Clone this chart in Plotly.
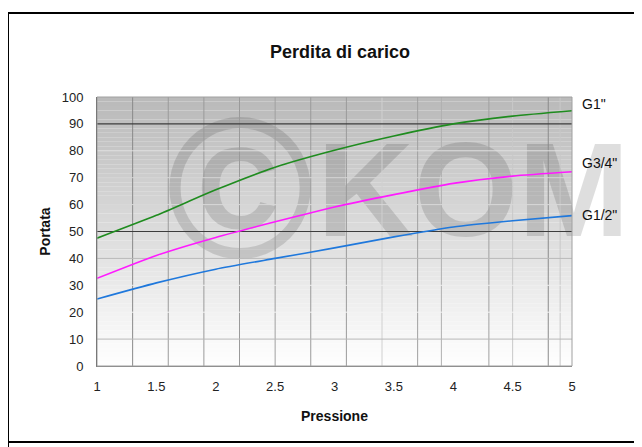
import plotly.graph_objects as go

# ---- data ----
pressione = [1, 1.5, 2, 2.5, 3, 3.5, 4, 4.5, 5]
g1 = [47.5, 56.0, 65.5, 73.9, 80.2, 85.5, 90.0, 92.9, 94.9]
g34 = [32.6, 41.1, 47.8, 53.6, 59.1, 63.7, 67.9, 70.6, 72.2]
g12 = [24.9, 30.9, 36.0, 40.0, 43.9, 48.0, 51.7, 54.0, 55.9]
series_names = ['G1"', 'G3/4"', 'G1/2"']
x_ticks = [1, 1.5, 2, 2.5, 3, 3.5, 4, 4.5, 5]
y_ticks = [0, 10, 20, 30, 40, 50, 60, 70, 80, 90, 100]

W, H = 642, 447
OFF = 8  # page body margin
L, R, T, B = 97, 572, 97, 366  # plot area in page px

def px(xp):
    return (xp - L) / (R - L)

def py(yp):
    return (B - yp) / (B - T)

fig = go.Figure()
colors = ["#1f8c1f", "#ff1aff", "#1f78dc"]
for name, vals, c in zip(series_names, [g1, g34, g12], colors):
    fig.add_trace(go.Scatter(x=pressione, y=vals, mode="lines", name=name,
                             line=dict(color=c, width=1.6, shape="spline", smoothing=0.6),
                             showlegend=False, hoverinfo="skip"))

shapes = []
# gradient background (paper-ref, below)
N = 60
for i in range(N):
    y0 = i / N
    y1 = (i + 1) / N
    t = (y0 + y1) / 2
    v = int(round(255 - 70 * t))
    shapes.append(dict(type="rect", xref="paper", yref="paper", x0=0, x1=1, y0=y0, y1=y1,
                       fillcolor=f"rgb({v},{v},{v})", line=dict(width=0), layer="below"))

# watermark
wm = "rgba(0,0,0,0.13)"
shapes.append(dict(type="rect", xref="paper", yref="paper",
                   x0=px(170), x1=px(310), y0=py(238), y1=py(98),
                   line=dict(width=0), fillcolor="rgba(0,0,0,0)", layer="below",
                   label=dict(text="<b>©</b>", font=dict(family="Liberation Sans", size=200, color=wm),
                              textposition="middle center")))
shapes.append(dict(type="rect", xref="paper", yref="paper",
                   x0=px(318), x1=px(718), y0=py(226), y1=py(126),
                   line=dict(width=0), fillcolor="rgba(0,0,0,0)", layer="below",
                   label=dict(text="<b>KOMP</b>", font=dict(family="Liberation Sans", size=134, color=wm),
                              textposition="middle center")))

# gridlines
vgrid = [(1.3, "#8a8a8a"), (1.6, "#9a9a9a"), (1.9, "#9a9a9a"), (2.2, "#9a9a9a"), (2.5, "#a0a0a0"),
         (2.8, "#9a9a9a"), (3.1, "#9a9a9a"), (3.4, "#d0d0d0"), (3.7, "#a0a0a0"), (3.9, "#b0b0b0"),
         (4.3, "#a0a0a0"), (4.5, "#c8c8c8"), (4.8, "#8a8a8a"), (4.9, "#c8c8c8")]
for xv, c in vgrid:
    shapes.append(dict(type="line", xref="x", yref="y", x0=xv, x1=xv, y0=0, y1=100,
                       line=dict(color=c, width=1), layer="between"))
hgrid = [(10, "#b8b8b8"), (20, "#f4f4f4"), (30, "#eeeeee"), (40, "#b8b8b8"), (50, "#3c3c3c"),
         (60, "#d8d8d8"), (70, "#d4d4d4"), (80, "#dedede"), (90, "#3c3c3c")]
for yv, c in hgrid:
    shapes.append(dict(type="line", xref="x", yref="y", x0=1, x1=5, y0=yv, y1=yv,
                       line=dict(color=c, width=1.2 if c == "#3c3c3c" else 1), layer="between"))

# plot border
shapes.append(dict(type="rect", xref="paper", yref="paper", x0=0, x1=1, y0=0, y1=1,
                   line=dict(color="#a0a0a0", width=1), fillcolor="rgba(0,0,0,0)", layer="above"))
# outer frame
shapes.append(dict(type="rect", xref="paper", yref="paper", x0=px(8), x1=px(700), y0=py(442), y1=py(13),
                   line=dict(color="#000000", width=2), fillcolor="rgba(0,0,0,0)", layer="above"))
shapes.append(dict(type="line", xref="paper", yref="paper", x0=px(8), x1=px(8), y0=py(447), y1=py(442),
                   line=dict(color="#000000", width=2), layer="above"))

annotations = []
label_shift = [7, 9, 1]
for name, vals, s in zip(series_names, [g1, g34, g12], label_shift):
    annotations.append(dict(x=pressione[-1], y=vals[-1], xref="x", yref="y", text=name,
                            showarrow=False, xanchor="left", yanchor="middle", xshift=8, yshift=s,
                            font=dict(family="Liberation Sans", size=14, color="#111111")))

fig.update_layout(
    width=W, height=H,
    margin=dict(l=L - OFF, r=W - (R - OFF), t=T - OFF, b=H - (B - OFF), pad=0),
    paper_bgcolor="white", plot_bgcolor="rgba(0,0,0,0)",
    title=dict(text="<b>Perdita di carico</b>", x=(340 - OFF) / W, xanchor="center", xref="container",
               y=1 - (52 - OFF) / H, yanchor="middle", yref="container",
               font=dict(family="Liberation Sans", size=18, color="#111111")),
    font=dict(family="Liberation Sans", size=13, color="#222222"),
    shapes=shapes, annotations=annotations,
    xaxis=dict(range=[1, 5], tickvals=x_ticks, ticktext=[f"{v:g}" for v in x_ticks],
               showgrid=False, zeroline=False, showline=True, linecolor="#808080", linewidth=1,
               ticks="", ticklabelstandoff=8,
               title=dict(text="<b>Pressione</b>", standoff=18, font=dict(size=14, color="#111111"))),
    yaxis=dict(range=[0, 100], tickvals=y_ticks, showgrid=False, zeroline=False,
               showline=True, linecolor="#505050", linewidth=1, ticks="", ticklabelstandoff=10,
               title=dict(text="<b>Portata</b>", standoff=7, font=dict(size=14, color="#111111"))),
)
fig.update_xaxes(automargin=False)
fig.update_yaxes(automargin=False)
fig.write_html("out.html")
